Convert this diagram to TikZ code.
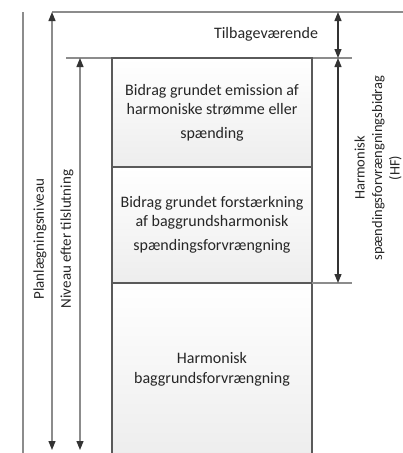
\documentclass[tikz,border=0pt]{standalone}
\usepackage{fontspec}
\setmainfont{Carlito}
\usetikzlibrary{arrows.meta, positioning}
\definecolor{lineGrey}{HTML}{8C8C8C}
\definecolor{boxEdge}{HTML}{5A5A5A}
\definecolor{textDark}{HTML}{262626}
\definecolor{tipDark}{HTML}{333333}

\begin{document}
\begin{tikzpicture}[x=1pt, y=-1pt,
    lvl/.style={draw=lineGrey, line width=1.2pt},
    dim/.style={draw=#1, line width=1.2pt,
                {Triangle[length=9pt,width=7pt,color=tipDark]}-{Triangle[length=9pt,width=7pt,color=tipDark]}},
    box/.style={rectangle, draw=boxEdge, line width=1.3pt, top color=white,
                bottom color=black!7, minimum width=200pt, minimum height=#1,
                inner sep=0pt, outer sep=0pt, align=center,
                font=\fontsize{16}{19}\selectfont\color{textDark}},
    lbl/.style={align=center, font=\fontsize{#1}{17.5}\selectfont\color{textDark}},
    lbl/.default=15,
  ]
    \useasboundingbox (0,0) rectangle (403,453);

    % level lines
    \coordinate (edgeTop) at (23,12);
    \coordinate (edgeBot) at (23,453);
    \coordinate (planTop) at (52,12);
    \coordinate (planBot) at (52,450);
    \coordinate (topEnd)  at (403,12);
    \coordinate (nivTop)  at (80,58);
    \coordinate (nivBot)  at (80,450);
    \coordinate (nivLeft) at (66,58);
    \coordinate (nivEnd)  at (352,58);
    \coordinate (restTop) at (338,12);
    \coordinate (restBot) at (338,58);
    \coordinate (hfBot)   at (338,283);
    \coordinate (hfEnd)   at (352,283);

    \draw[lvl] (edgeTop) -- (edgeBot);
    \draw[lvl] (planTop) -- (topEnd);
    \draw[lvl] (nivLeft) -- (nivEnd);

    % the three contributions
    \node[box=109pt] (emis) at (212,112.5)
      {Bidrag grundet emission af\\
       harmoniske strømme eller\\[5pt]
       spænding};
    \node[box=116pt, below=0pt of emis] (forst)
      {Bidrag grundet forstærkning\\
       af baggrundsharmonisk\\[5pt]
       spændingsforvrængning};
    \node[box=172pt, below=0pt of forst] (bagg)
      {Harmonisk\\[1pt]
       baggrundsforvrængning};

    \draw[lvl] (bagg.north east) -- (hfEnd);

    % dimension arrows
    \draw[dim=lineGrey] (planTop) -- (planBot);
    \draw[dim=lineGrey] (nivTop) -- (nivBot);
    \draw[dim=tipDark] (restTop) -- (restBot);
    \draw[dim=tipDark] (restBot) -- (hfBot);

    % labels
    \node[lbl, rotate=90] (plan) at (40,239) {Planlægningsniveau};
    \node[lbl, rotate=90] (niv) at (67,239) {Niveau efter tilslutning};
    \node[lbl=16] (rest) at (266,34) {Tilbageværende};
    \node[lbl=14.5, rotate=90] (hf) at (378,168)
      {Harmonisk\\
       spændingsforvrængningsbidrag\\
       (HF)};
  \end{tikzpicture}
\end{document}
